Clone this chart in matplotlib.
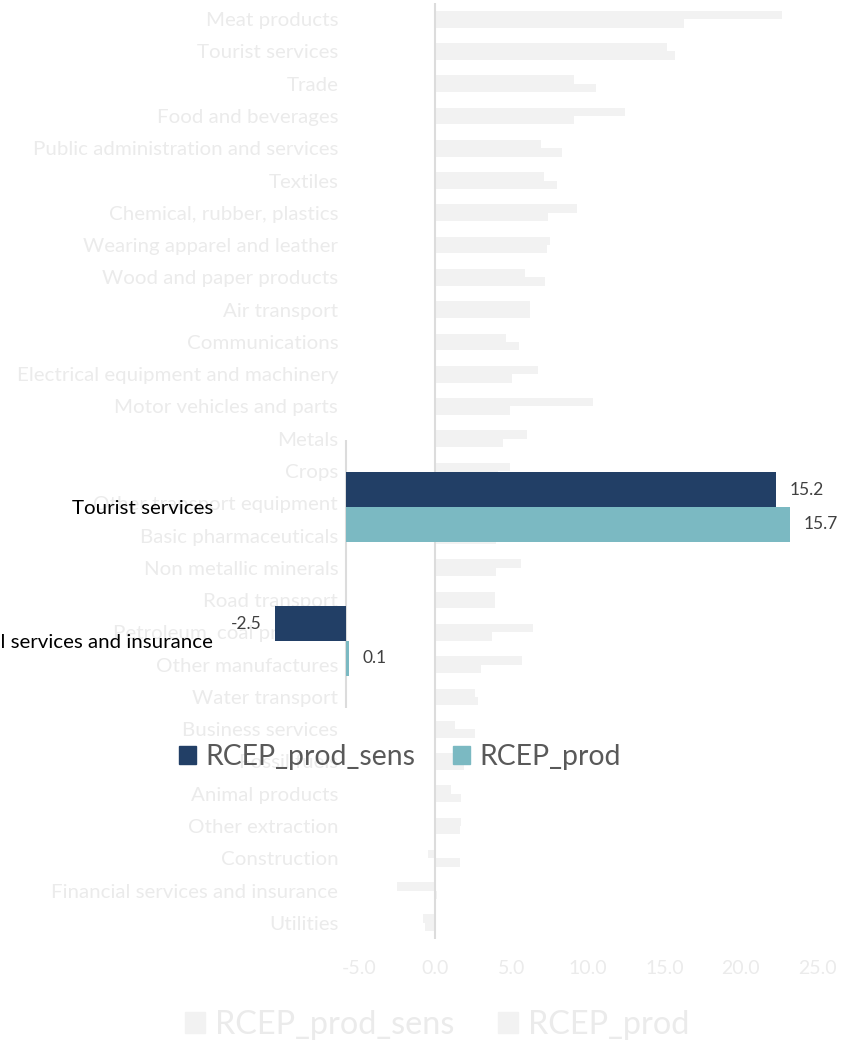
import numpy as np
import matplotlib
matplotlib.use("Agg")
import matplotlib.pyplot as plt
from matplotlib.patches import Patch

plt.rcParams['font.family'] = ['Lato', 'DejaVu Sans']

# Full sector ranking (faded backdrop)
sectors = [
    "Meat products", "Tourist services", "Trade", "Food and beverages",
    "Public administration and services", "Textiles", "Chemical, rubber, plastics",
    "Wearing apparel and leather", "Wood and paper products", "Air transport",
    "Communications", "Electrical equipment and machinery", "Motor vehicles and parts",
    "Metals", "Crops", "Other transport equipment", "Basic pharmaceuticals",
    "Non metallic minerals", "Road transport", "Petroleum, coal products",
    "Other manufactures", "Water transport", "Business services", "Fossil fuels",
    "Animal products", "Other extraction", "Construction",
    "Financial services and insurance", "Utilities",
]
prod_sens_all = [22.7, 15.2, 9.1, 12.4, 6.9, 7.1, 9.3, 7.5, 5.9, 6.2,
                 4.6, 6.7, 10.3, 6.0, 4.9, 4.5, 4.3, 5.6, 3.9, 6.4,
                 5.7, 2.6, 1.3, 2.0, 1.0, 1.7, -0.5, -2.5, -0.8]
prod_all = [16.3, 15.7, 10.5, 9.1, 8.3, 8.0, 7.4, 7.3, 7.2, 6.2,
            5.5, 5.0, 4.9, 4.4, 4.1, 4.2, 4.0, 4.0, 3.9, 3.7,
            3.0, 2.8, 2.6, 1.9, 1.7, 1.6, 1.6, 0.1, -0.7]
x_ticks = [-5.0, 0.0, 5.0, 10.0, 15.0, 20.0, 25.0]

# Highlighted sectors
focus = ["Tourist services", "Financial services and insurance"]
prod_sens_focus = [15.2, -2.5]
prod_focus = [15.7, 0.1]

series_names = ["RCEP_prod_sens", "RCEP_prod"]
navy = "#223F66"
teal = "#7BB9C2"
faint_bar = "#f2f2f2"
faint_text = "#ebebeb"
axis_grey = "#dcdcdc"

W, H = 857, 1041
fig = plt.figure(figsize=(W / 100, H / 100), dpi=100)

def fig_rect(left, top, right, bottom):
    return [left / W, 1 - bottom / H, (right - left) / W, (bottom - top) / H]

# ---- backdrop chart ----
ax = fig.add_axes(fig_rect(359, 3, 817, 939))
ax.set_facecolor("none")
y = np.arange(len(sectors))
bh = 0.26
ax.barh(y - bh / 2, prod_sens_all, height=bh, color=faint_bar, zorder=2)
ax.barh(y + bh / 2, prod_all, height=bh, color=faint_bar, zorder=2)
ax.axvline(0, color=axis_grey, lw=1.5, zorder=3)
ax.set_xlim(-5, 25)
ax.set_ylim(len(sectors) - 0.5, -0.5)
ax.set_yticks(y)
ax.set_yticklabels(sectors, fontsize=14.75, color=faint_text)
ax.set_xticks(x_ticks)
ax.set_xticklabels([f"{t:.1f}" for t in x_ticks], fontsize=14, color=faint_text)
ax.tick_params(axis="y", length=0, pad=15)
ax.tick_params(axis="x", length=0, pad=15)
for s in ax.spines.values():
    s.set_visible(False)

fig.legend(handles=[Patch(color=faint_bar), Patch(color=faint_bar)],
           labels=series_names, loc="center", bbox_to_anchor=(437 / W, 1 - 1025 / H),
           ncol=2, frameon=False, fontsize=23.3, labelcolor=faint_text,
           handlelength=0.62, handleheight=0.62, handletextpad=0.3, columnspacing=1.35)

# ---- highlighted chart ----
ax2 = fig.add_axes(fig_rect(218.6, 440, 827, 708))
ax2.set_facecolor("none")
y2 = np.arange(len(focus))
bh2 = 0.26
b1 = ax2.barh(y2 - bh2 / 2, prod_sens_focus, height=bh2, color=navy, zorder=2)
b2 = ax2.barh(y2 + bh2 / 2, prod_focus, height=bh2, color=teal, zorder=2)
ax2.axvline(0, color=axis_grey, lw=1.5, zorder=1)
ax2.set_xlim(-4.5, 17)
ax2.set_ylim(1.5, -0.5)
ax2.set_yticks(y2)
ax2.set_yticklabels(focus, fontsize=14.75, color="black")
ax2.tick_params(axis="y", length=0, pad=4)
ax2.set_xticks([])
for s in ax2.spines.values():
    s.set_visible(False)

for bars, vals in ((b1, prod_sens_focus), (b2, prod_focus)):
    for bar, v in zip(bars, vals):
        yc = bar.get_y() + bar.get_height() / 2
        off = 10 if v >= 0 else -10
        ax2.annotate(f"{v:.1f}", xy=(v, yc), xytext=(off, 0), textcoords="offset points",
                     ha="left" if v >= 0 else "right", va="center",
                     fontsize=12.5, color="#404040")

fig.legend(handles=[Patch(color=navy), Patch(color=teal)],
           labels=series_names, loc="center", bbox_to_anchor=(400 / W, 1 - 757 / H),
           ncol=2, frameon=False, fontsize=20.4, labelcolor="#595959",
           handlelength=0.58, handleheight=0.58, handletextpad=0.33, columnspacing=1.35)

fig.savefig("out.png", dpi=100)
